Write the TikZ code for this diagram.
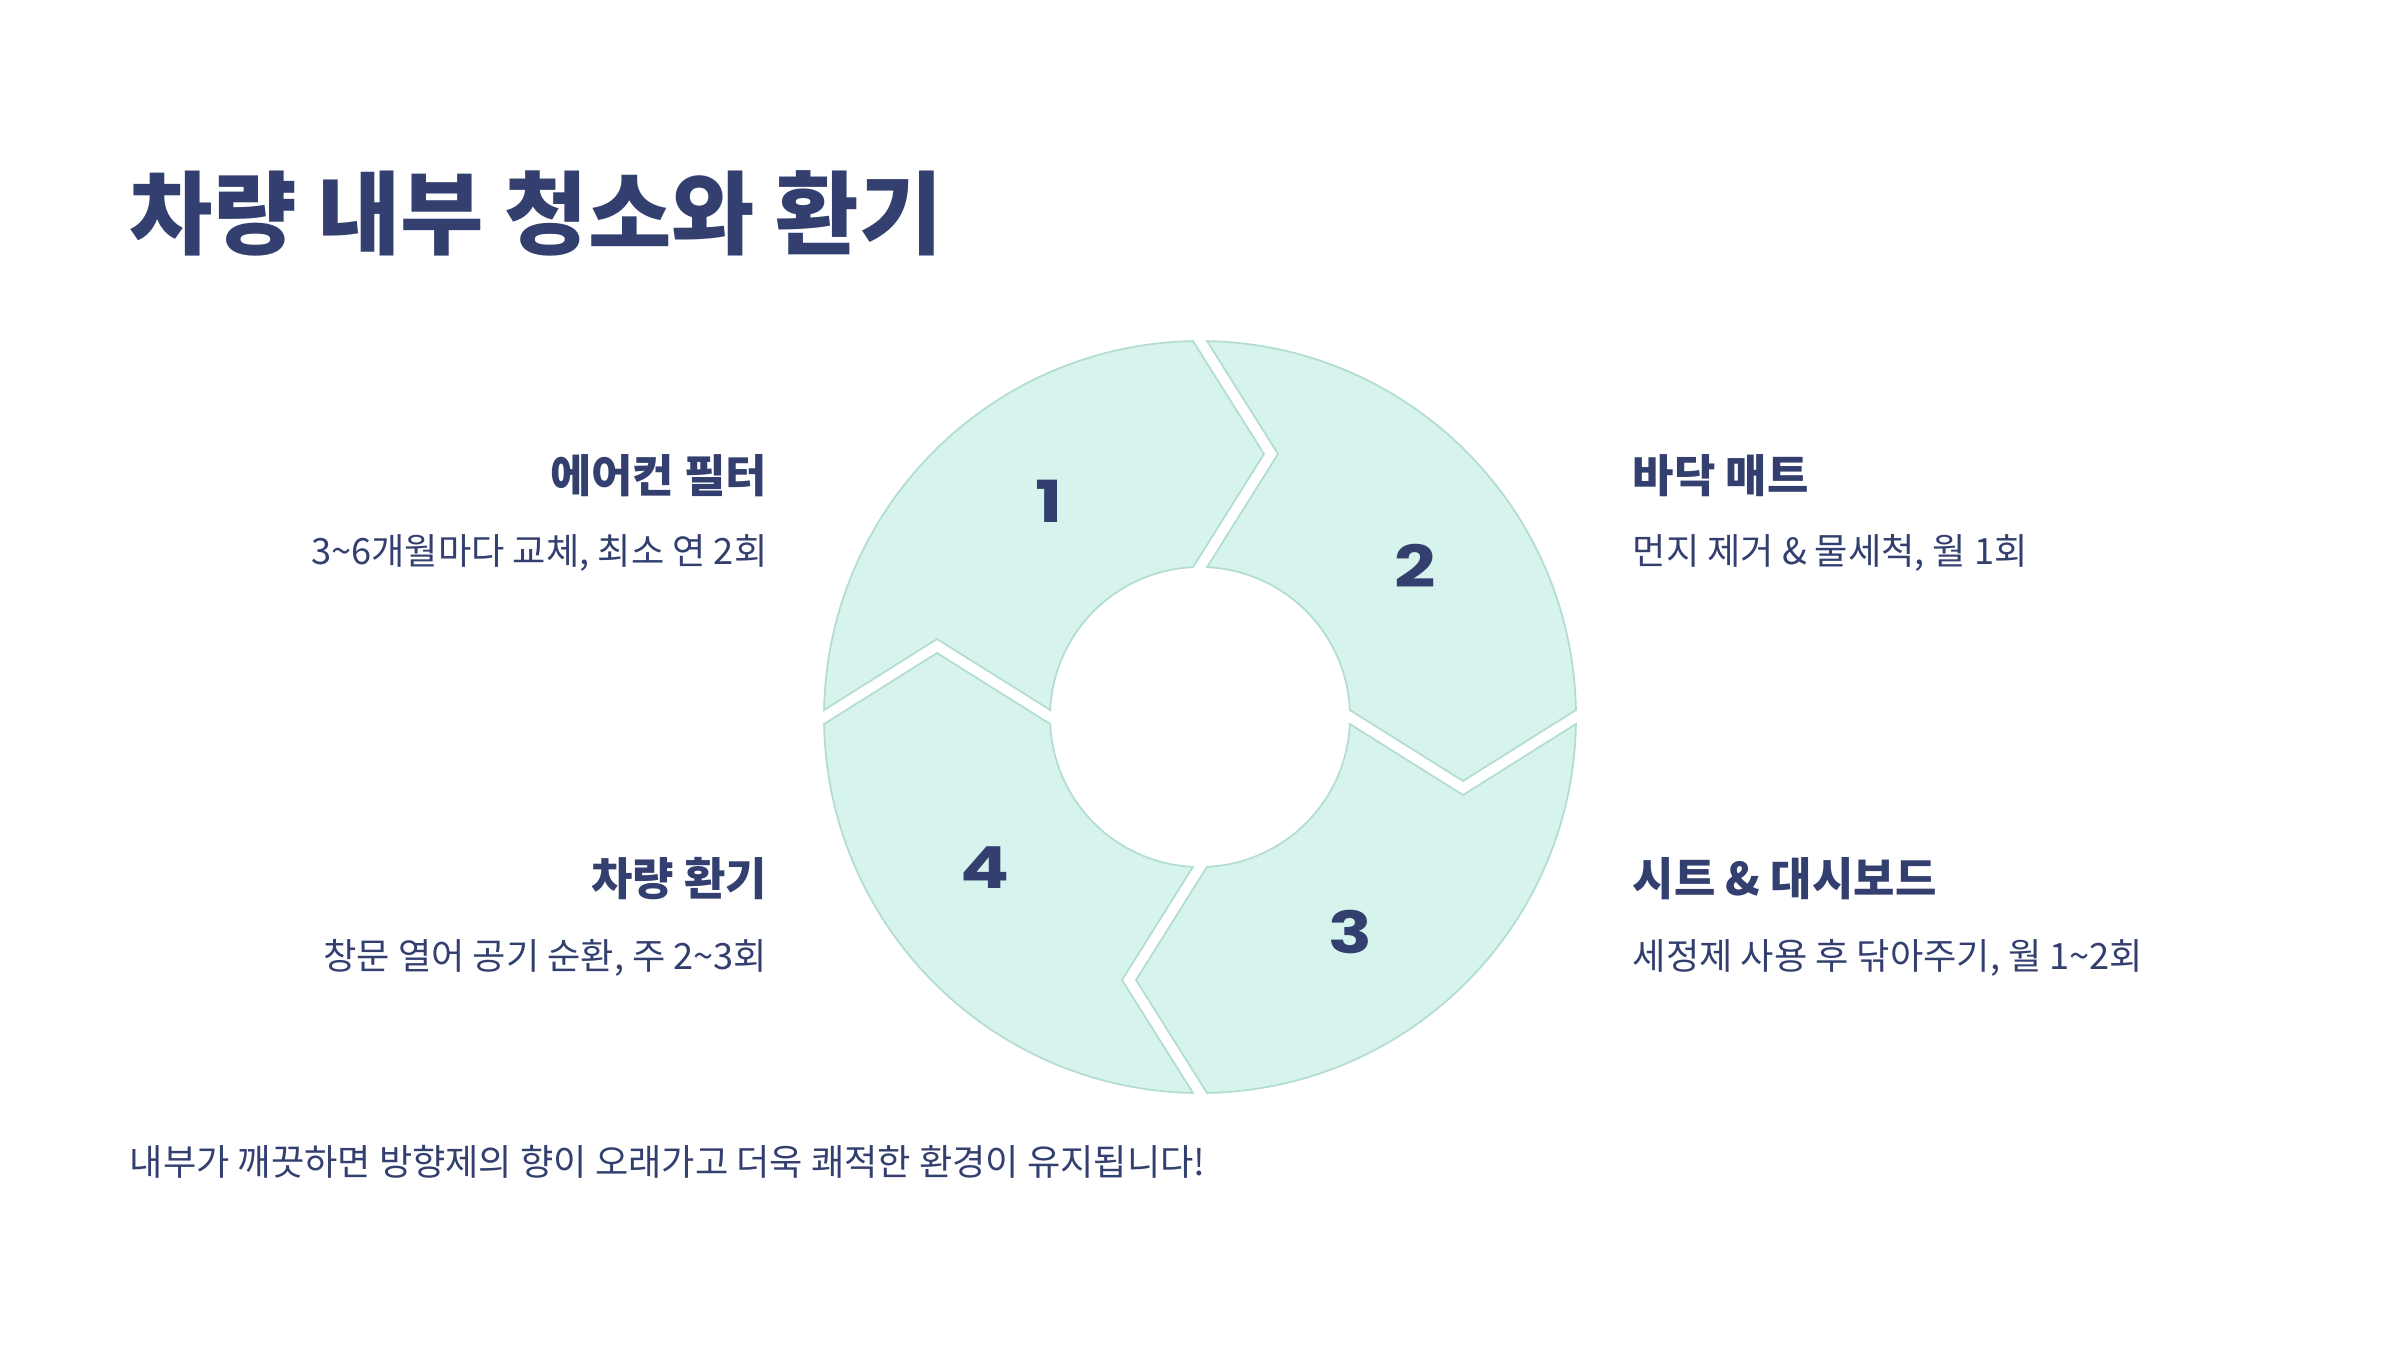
\documentclass[tikz,border=0pt]{standalone}
\usepackage{fontspec}
\setmainfont{Noto Sans CJK KR}
\newfontfamily\numfont[FakeStretch=1.25]{Poppins}
\usepackage{xcolor}
\usepackage{tikz}
\definecolor{knavy}{HTML}{33406F}
\definecolor{kmint}{HTML}{D6F4ED}
\definecolor{kmintline}{HTML}{B2DDD0}

\begin{document}
\begin{tikzpicture}[x=1cm, y=1cm,
  segment/.style={fill=kmint, draw=kmintline, line width=0.5pt},
  heading/.style={font=\fontsize{12.8}{15}\selectfont\bfseries, text=knavy, inner sep=0pt},
  desc/.style={font=\fontsize{10.3}{12}\selectfont, text=knavy, inner sep=0pt},
  numlabel/.style={font=\numfont\fontsize{16.5}{18}\selectfont\bfseries, text=knavy}]
\fill[white] (0,0) rectangle (24,13.5);
\useasboundingbox (0,0) rectangle (24,13.5);
\node[font=\fontsize{25.8}{30}\selectfont\bfseries, text=knavy, anchor=west, inner sep=0pt]
  (title) at (1.29,11.37) {차량 내부 청소와 환기};
\coordinate (ctr) at (12,6.33);
% ring of four arrow pieces, clockwise from the left
\filldraw[segment, shift={(ctr)}, rotate=0]
  (178.93:3.76) arc[start angle=178.93, end angle=91.07, radius=3.76] -- (0.64,2.63)
  -- (92.68:1.5) arc[start angle=92.68, end angle=177.32, radius=1.5] -- (-2.63,0.78) -- cycle;
\filldraw[segment, shift={(ctr)}, rotate=-90]
  (178.93:3.76) arc[start angle=178.93, end angle=91.07, radius=3.76] -- (0.64,2.63)
  -- (92.68:1.5) arc[start angle=92.68, end angle=177.32, radius=1.5] -- (-2.63,0.78) -- cycle;
\filldraw[segment, shift={(ctr)}, rotate=-180]
  (178.93:3.76) arc[start angle=178.93, end angle=91.07, radius=3.76] -- (0.64,2.63)
  -- (92.68:1.5) arc[start angle=92.68, end angle=177.32, radius=1.5] -- (-2.63,0.78) -- cycle;
\filldraw[segment, shift={(ctr)}, rotate=-270]
  (178.93:3.76) arc[start angle=178.93, end angle=91.07, radius=3.76] -- (0.64,2.63)
  -- (92.68:1.5) arc[start angle=92.68, end angle=177.32, radius=1.5] -- (-2.63,0.78) -- cycle;
\node[numlabel] (n1) at ([shift={(125:2.63)}]ctr) {1};
\node[numlabel] (n2) at ([shift={(35:2.63)}]ctr) {2};
\node[numlabel] (n3) at ([shift={(-55:2.63)}]ctr) {3};
\node[numlabel] (n4) at ([shift={(-145:2.63)}]ctr) {4};
% side texts
\node[heading, anchor=east] (h1) at (7.68,8.74) {에어컨 필터};
\node[desc, anchor=east] (d1) at (7.68,7.97) {3\textasciitilde6개월마다 교체, 최소 연 2회};
\node[heading, anchor=west] (h2) at (16.32,8.74) {바닥 매트};
\node[desc, anchor=west] (d2) at (16.32,7.97) {먼지 제거 \& 물세척, 월 1회};
\node[heading, anchor=west] (h3) at (16.32,4.71) {시트 \& 대시보드};
\node[desc, anchor=west] (d3) at (16.32,3.92) {세정제 사용 후 닦아주기, 월 1\textasciitilde2회};
\node[heading, anchor=east] (h4) at (7.68,4.71) {차량 환기};
\node[desc, anchor=east] (d4) at (7.68,3.92) {창문 열어 공기 순환, 주 2\textasciitilde3회};
\node[desc, anchor=west] (foot) at (1.29,1.88) {내부가 깨끗하면 방향제의 향이 오래가고 더욱 쾌적한 환경이 유지됩니다!};
\end{tikzpicture}
\end{document}
